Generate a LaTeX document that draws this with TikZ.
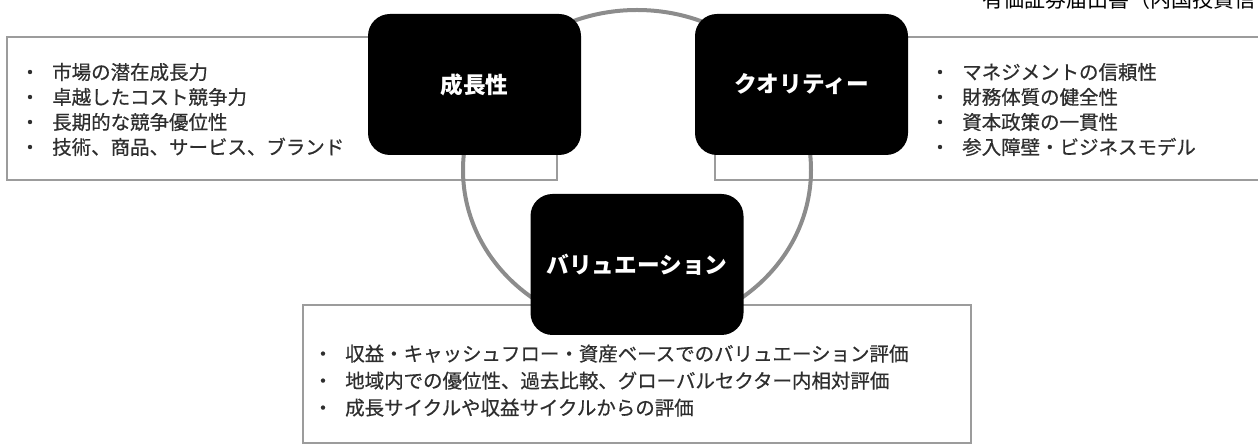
\documentclass[tikz,border=0pt]{standalone}
\usepackage{fontspec}
\setmainfont{Noto Sans CJK JP}
\newfontfamily\bodyjp[FakeBold=0.6]{Noto Sans CJK JP}
\usetikzlibrary{shapes.geometric}
\definecolor{boxgray}{HTML}{9C9C9C}
\definecolor{ringgray}{HTML}{8C8C8C}
\definecolor{txtgray}{HTML}{2E2E2E}
\newcommand{\bulletline}[1]{\makebox[24pt][l]{・}#1}
\begin{document}
\begin{tikzpicture}[x=0.75pt,y=-0.75pt,
  framebox/.style={draw=boxgray, line width=1.8pt, inner sep=0pt, minimum width=#1},
  keybox/.style={fill=black, rounded corners=16.5pt, inner sep=0pt,
    minimum width=159.75pt, minimum height=105.75pt,
    text=white, font=\fontsize{17}{20}\selectfont\bfseries},
  itemline/.style={anchor=base west, inner sep=0pt, text=txtgray,
    font=\bodyjp\fontsize{14.6}{18}\selectfont},
  ring/.style={ellipse, draw=ringgray, line width=3pt, inner sep=0pt}]
\useasboundingbox (0,0) rectangle (1258,448);
\clip (0,0) rectangle (1258,448);
% outlined text boxes
\node[framebox=412.5pt, minimum height=107.25pt] (leftbox) at (282,108.5) {};
\node[framebox=412.5pt, minimum height=107.25pt] (rightbox) at (990,108.5) {};
\node[framebox=501pt, minimum height=103.5pt] (bottombox) at (637,374) {};
% ring linking the three themes
\node[ring, minimum width=261pt, minimum height=240pt] (ring) at (637,170) {};
% theme boxes
\node[keybox] (growth) at (474.5,84.5) {成長性};
\node[keybox] (quality) at (801.5,84.5) {クオリティー};
\node[keybox] (valuation) at (637,264.5) {バリュエーション};
% title (cut at top edge, as in the source)
\node[anchor=base west, inner sep=0pt, font=\fontsize{15.75}{18}\selectfont] (title) at (982,7.5) {有価証券届出書（内国投資信};
% left list
\node[itemline] (l1) at (20,79.4) {\bulletline{市場の潜在成長力}};
\node[itemline] (l2) at (20,104.4) {\bulletline{卓越したコスト競争力}};
\node[itemline] (l3) at (20,129.4) {\bulletline{長期的な競争優位性}};
\node[itemline] (l4) at (20,154.4) {\bulletline{技術、商品、サービス、ブランド}};
% right list
\node[itemline] (r1) at (930,79.4) {\bulletline{マネジメントの信頼性}};
\node[itemline] (r2) at (930,104.4) {\bulletline{財務体質の健全性}};
\node[itemline] (r3) at (930,129.4) {\bulletline{資本政策の一貫性}};
\node[itemline] (r4) at (930,154.4) {\bulletline{参入障壁・ビジネスモデル}};
% bottom list
\node[itemline] (b1) at (313,361) {\bulletline{収益・キャッシュフロー・資産ベースでのバリュエーション評価}};
\node[itemline] (b2) at (313,388) {\bulletline{地域内での優位性、過去比較、グローバルセクター内相対評価}};
\node[itemline] (b3) at (313,415) {\bulletline{成長サイクルや収益サイクルからの評価}};
\end{tikzpicture}
\end{document}
